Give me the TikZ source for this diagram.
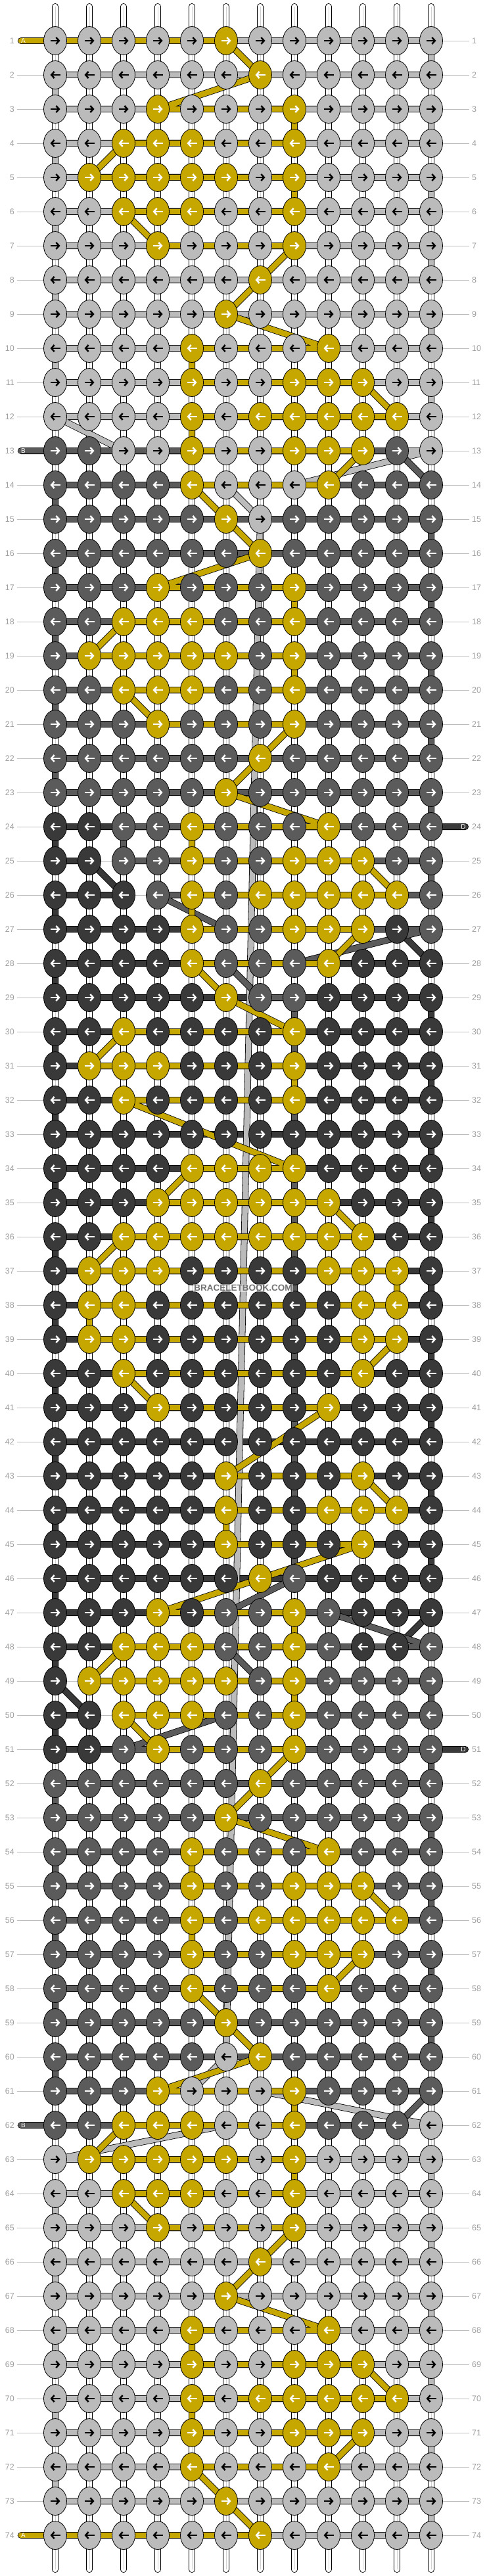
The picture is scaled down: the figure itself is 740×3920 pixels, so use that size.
\documentclass[tikz,border=0pt]{standalone}
\usepackage{fontspec}
\setmainfont{Liberation Sans}
\usetikzlibrary{arrows.meta,shapes.geometric}
\definecolor{cL}{HTML}{BBBBBB}
\definecolor{cG}{HTML}{C6A700}
\definecolor{cD}{HTML}{5B5B5B}
\definecolor{cK}{HTML}{393939}
\colorlet{aL}{black}
\colorlet{aG}{white}
\colorlet{aD}{white}
\colorlet{aK}{white}
\definecolor{rowgray}{HTML}{BDBDBD}
\definecolor{numgray}{HTML}{A0A0A0}
\newcommand{\knotrows}{%
{L,L,L,L,L,G,L,L,L,L,L,L},%
{L,L,L,L,L,L,G,L,L,L,L,L},%
{L,L,L,G,L,L,L,G,L,L,L,L},%
{L,L,G,G,G,L,L,G,L,L,L,L},%
{L,G,G,G,G,G,L,G,L,L,L,L},%
{L,L,G,G,G,L,L,G,L,L,L,L},%
{L,L,L,G,L,L,L,G,L,L,L,L},%
{L,L,L,L,L,L,G,L,L,L,L,L},%
{L,L,L,L,L,G,L,L,L,L,L,L},%
{L,L,L,L,G,L,L,L,G,L,L,L},%
{L,L,L,L,G,L,L,G,G,G,L,L},%
{L,L,L,L,G,L,G,G,G,G,G,L},%
{D,D,L,L,G,L,L,G,G,G,D,L},%
{D,D,D,D,G,L,L,L,G,D,D,D},%
{D,D,D,D,D,G,L,D,D,D,D,D},%
{D,D,D,D,D,D,G,D,D,D,D,D},%
{D,D,D,G,D,D,D,G,D,D,D,D},%
{D,D,G,G,G,D,D,G,D,D,D,D},%
{D,G,G,G,G,G,D,G,D,D,D,D},%
{D,D,G,G,G,D,D,G,D,D,D,D},%
{D,D,D,G,D,D,D,G,D,D,D,D},%
{D,D,D,D,D,D,G,D,D,D,D,D},%
{D,D,D,D,D,G,D,D,D,D,D,D},%
{K,K,D,D,G,D,D,D,G,D,D,D},%
{K,K,D,D,G,D,D,G,G,G,D,D},%
{K,K,K,D,G,D,G,G,G,G,G,D},%
{K,K,K,K,G,D,D,G,G,G,K,D},%
{K,K,K,K,G,D,D,D,G,K,K,K},%
{K,K,K,K,K,G,D,D,K,K,K,K},%
{K,K,G,K,K,K,K,G,K,K,K,K},%
{K,G,G,G,K,K,K,G,K,K,K,K},%
{K,K,G,K,K,K,K,G,K,K,K,K},%
{K,K,K,K,K,K,K,K,K,K,K,K},%
{K,K,K,K,G,G,G,G,K,K,K,K},%
{K,K,K,G,G,G,G,G,G,K,K,K},%
{K,K,G,G,G,G,G,G,G,G,K,K},%
{K,G,G,G,K,K,K,K,G,G,G,K},%
{K,G,G,K,K,K,K,K,K,G,G,K},%
{K,G,G,K,K,K,K,K,K,G,G,K},%
{K,K,G,K,K,K,K,K,K,G,K,K},%
{K,K,K,G,K,K,K,K,G,K,K,K},%
{K,K,K,K,K,K,K,K,K,K,K,K},%
{K,K,K,K,K,G,K,K,K,G,K,K},%
{K,K,K,K,K,G,K,K,G,G,G,K},%
{K,K,K,K,K,G,K,K,K,G,K,K},%
{K,K,K,K,K,K,G,D,K,K,K,K},%
{K,K,K,G,K,D,D,G,D,K,K,K},%
{K,K,G,G,G,D,D,G,D,K,K,D},%
{K,G,G,G,G,G,D,G,D,D,D,D},%
{K,K,G,G,G,D,D,G,D,D,D,D},%
{K,K,D,G,D,D,D,G,D,D,D,D},%
{D,D,D,D,D,D,G,D,D,D,D,D},%
{D,D,D,D,D,G,D,D,D,D,D,D},%
{D,D,D,D,G,D,D,D,G,D,D,D},%
{D,D,D,D,G,D,D,G,G,G,D,D},%
{D,D,D,D,G,D,G,G,G,G,G,D},%
{D,D,D,D,G,D,D,G,G,G,D,D},%
{D,D,D,D,G,D,D,D,G,D,D,D},%
{D,D,D,D,D,G,D,D,D,D,D,D},%
{D,D,D,D,D,L,G,D,D,D,D,D},%
{D,D,D,G,L,L,L,G,D,D,D,D},%
{D,D,G,G,G,L,L,G,D,D,D,L},%
{L,G,G,G,G,G,L,G,L,L,L,L},%
{L,L,G,G,G,L,L,G,L,L,L,L},%
{L,L,L,G,L,L,L,G,L,L,L,L},%
{L,L,L,L,L,L,G,L,L,L,L,L},%
{L,L,L,L,L,G,L,L,L,L,L,L},%
{L,L,L,L,G,L,L,L,G,L,L,L},%
{L,L,L,L,G,L,L,G,G,G,L,L},%
{L,L,L,L,G,L,G,G,G,G,G,L},%
{L,L,L,L,G,L,L,G,G,G,L,L},%
{L,L,L,L,G,L,L,L,G,L,L,L},%
{L,L,L,L,L,G,L,L,L,L,L,L},%
{L,L,L,L,L,L,G,L,L,L,L,L}}

\begin{document}
\begin{tikzpicture}[x=1pt,y=1pt,
	knot/.style={ellipse, draw=black, line width=0.8pt, fill=c#1, minimum width=35pt, minimum height=43pt, inner sep=0pt},
	knotarrow/.style={draw=a#1, line width=2.5pt, -{Straight Barb[length=4.5pt,width=10pt]}},
	strand/.style={draw=black, line width=0.8pt, double=white, double distance=8.4pt, line cap=round},
	strandmid/.style={draw=rowgray!70, line width=0.6pt},
	yarn/.style={draw=black, line width=0.8pt, double=c#1, double distance=8.4pt, line cap=round, line join=round},
	rowline/.style={draw=rowgray, line width=0.8pt},
	rownum/.style={text=numgray, font=\fontsize{12.5}{14}\selectfont, inner sep=0pt},
	tag/.style={text=white, font=\fontsize{10}{12}\selectfont, inner sep=0pt}]
	\fill[white] (0,0) rectangle (740,-3920);
	\useasboundingbox (0,0) rectangle (740,-3920);
	\foreach \r in {1,...,74}{
		\foreach \c in {1,...,12}
			\coordinate (p-\r-\c) at ({32+52*\c},{-10-52*\r});
		\node[rownum, anchor=east] (nl-\r) at (22,{-10-52*\r}) {\r};
		\node[rownum, anchor=west] (nr-\r) at (718,{-10-52*\r}) {\r};
		\draw[rowline] ([xshift=4pt]nl-\r.east) -- ([xshift=-4pt]nr-\r.west);
	}
	\foreach \c in {1,...,12}{
		\coordinate (t-\c) at ({32+52*\c},-10);
		\coordinate (b-\c) at ({32+52*\c},-3910);
		\draw[strand] (t-\c) -- (b-\c);
		\draw[strandmid] (t-\c) -- (b-\c);
	}
	\coordinate (ea1) at (32,-62);
	\coordinate (ea2) at (32,-3858);
	\coordinate (eb1) at (32,-686);
	\coordinate (eb2) at (32,-3234);
	\coordinate (ed1) at (708,-1258);
	\coordinate (ed2) at (708,-2662);
	\draw[yarn=K] (ed1) \foreach \r/\c in {24/1,25/1,25/2,26/3,26/1,27/1,27/11,28/12,28/1,29/1,29/12,30/12,30/1,31/1,31/12,32/12,32/1,33/1,33/12,34/12,34/1,35/1,35/12,36/12,36/1,37/1,37/12,38/12,38/1,39/1,39/12,40/12,40/1,41/1,41/12,42/12,42/1,43/1,43/12,44/12,44/1,45/1,45/12,46/12,46/1,47/1,47/12,48/11,48/1,49/1,50/2,50/1,51/1} { -- (p-\r-\c) } -- (ed2);
	\draw[yarn=L] (p-1-1) \foreach \r/\c in {1/12,2/12,2/1,3/1,3/12,4/12,4/1,5/1,5/12,6/12,6/1,7/1,7/12,8/12,8/1,9/1,9/12,10/12,10/1,11/1,11/12,12/12,12/1,13/3,13/12,14/8,14/6,15/7,60/6,61/5,61/7,62/12,62/6,63/1,63/12,64/12,64/1,65/1,65/12,66/12,66/1,67/1,67/12,68/12,68/1,69/1,69/12,70/12,70/1,71/1,71/12,72/12,72/1,73/1,73/12,74/12,74/1} { -- (p-\r-\c) };
	\draw[yarn=D] (eb1) \foreach \r/\c in {13/1,13/11,14/12,14/1,15/1,15/12,16/12,16/1,17/1,17/12,18/12,18/1,19/1,19/12,20/12,20/1,21/1,21/12,22/12,22/1,23/1,23/12,24/12,24/3,25/3,25/12,26/12,26/4,27/6,27/12,28/8,28/6,29/7,29/8,46/8,47/6,47/9,48/12,48/6,49/7,49/12,50/12,50/6,51/3,51/12,52/12,52/1,53/1,53/12,54/12,54/1,55/1,55/12,56/12,56/1,57/1,57/12,58/12,58/1,59/1,59/12,60/12,60/1,61/1,61/12,62/11,62/1} { -- (p-\r-\c) } -- (eb2);
	\draw[yarn=G] (ea1) \foreach \r/\c in {1/6,2/7,3/4,3/8,4/8,4/3,5/2,5/8,6/8,6/3,7/4,7/8,8/7,9/6,10/9,10/5,11/5,11/10,12/11,12/5,13/5,13/10,14/9,14/5,15/6,16/7,17/4,17/8,18/8,18/3,19/2,19/8,20/8,20/3,21/4,21/8,22/7,23/6,24/9,24/5,25/5,25/10,26/11,26/5,27/5,27/10,28/9,28/5,29/6,30/8,30/3,31/2,31/8,32/8,32/3,34/8,34/5,35/4,35/9,36/10,36/3,37/2,37/11,38/11,38/2,39/2,39/11,40/10,40/3,41/4,41/9,43/6,43/10,44/11,44/6,45/6,45/10,46/7,47/4,47/8,48/8,48/3,49/2,49/8,50/8,50/3,51/4,51/8,52/7,53/6,54/9,54/5,55/5,55/10,56/11,56/5,57/5,57/10,58/9,58/5,59/6,60/7,61/4,61/8,62/8,62/3,63/2,63/8,64/8,64/3,65/4,65/8,66/7,67/6,68/9,68/5,69/5,69/10,70/11,70/5,71/5,71/10,72/9,72/5,73/6,74/7} { -- (p-\r-\c) } -- (ea2);
	\node[tag] (tag-a1) at (35.5,-62) {A};
	\node[tag] (tag-a2) at (35.5,-3858) {A};
	\node[tag] (tag-b1) at (35.5,-686) {B};
	\node[tag] (tag-b2) at (35.5,-3234) {B};
	\node[tag] (tag-d1) at (705,-1258) {D};
	\node[tag] (tag-d2) at (705,-2662) {D};
	\foreach \pat [count=\r] in \knotrows {
		\foreach \k [count=\c] in \pat {
			\node[knot=\k] (k-\r-\c) at (p-\r-\c) {};
			\ifodd\r\relax
				\draw[knotarrow=\k] ([xshift=-7.5pt]k-\r-\c.center) -- ([xshift=7.5pt]k-\r-\c.center);
			\else
				\draw[knotarrow=\k] ([xshift=7.5pt]k-\r-\c.center) -- ([xshift=-7.5pt]k-\r-\c.center);
			\fi
		}
	}
	\node[fill=white, fill opacity=0.5, text opacity=1, text=black!55, inner sep=1pt, font=\bfseries\fontsize{13.5}{14}\selectfont] (mark) at (370,-1960) {BRACELETBOOK.COM};
\end{tikzpicture}
\end{document}
